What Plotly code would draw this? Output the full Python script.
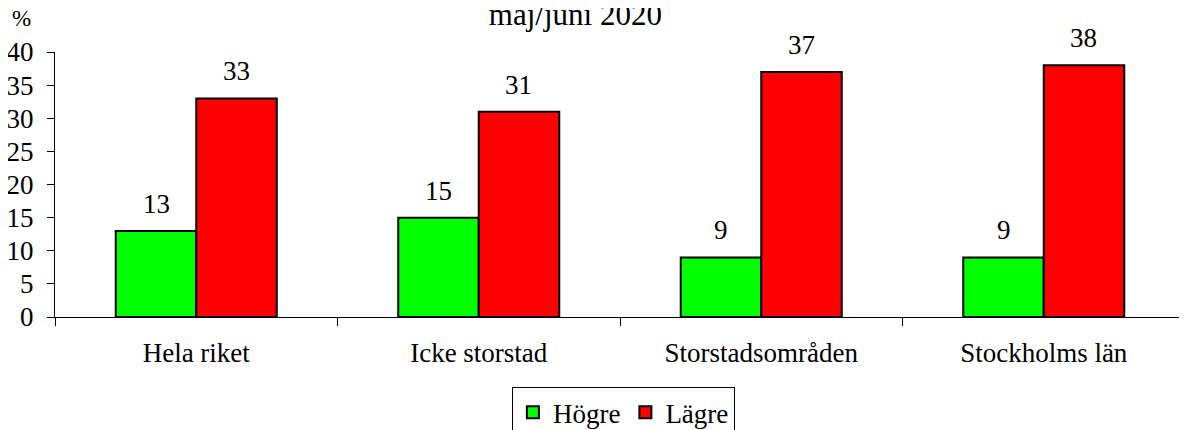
import plotly.graph_objects as go

categories = ["Hela riket", "Icke storstad", "Storstadsområden", "Stockholms län"]
hogre = [13, 15, 9, 9]
lagre = [33, 31, 37, 38]
series_names = ["Högre", "Lägre"]
colors = ["#00ff00", "#ff0000"]
y_ticks = [0, 5, 10, 15, 20, 25, 30, 35, 40]

font = "Liberation Serif, Times New Roman, serif"
fs = 27

fig = go.Figure()
for name, vals, col in zip(series_names, [hogre, lagre], colors):
    fig.add_trace(go.Bar(
        x=categories, y=vals, name=name,
        marker=dict(color=col, line=dict(color="black", width=2)),
    ))

for vals, shift in [(hogre, -40), (lagre, 40)]:
    for c, v in zip(categories, vals):
        fig.add_annotation(x=c, y=v, text=str(v), showarrow=False, xshift=shift,
                           yshift=27, font=dict(size=fs, color="black", family=font))

fig.add_annotation(text="%", xref="paper", yref="paper", x=-0.030, y=1.125,
                   showarrow=False, font=dict(size=23, color="black", family=font),
                   xanchor="center", yanchor="middle")

fig.update_layout(
    width=1187, height=430,
    margin=dict(l=47, r=10, t=44, b=121, autoexpand=False),
    paper_bgcolor="white", plot_bgcolor="white",
    font=dict(family=font, size=fs, color="black"),
    title=dict(text="maj/juni 2020", x=0.478, xanchor="center", y=0.985, yanchor="middle",
               font=dict(size=31, family=font, color="black")),
    barmode="group", bargap=0.43, bargroupgap=0,
    showlegend=True,
    legend=dict(orientation="h", x=0.503, xanchor="center", y=-0.265, yanchor="top",
                bordercolor="black", borderwidth=1, font=dict(size=fs, family=font),
                itemwidth=30, tracegroupgap=0),
    xaxis=dict(type="category", showline=True, linecolor="black", linewidth=1,
               ticks="outside", tickson="boundaries", ticklen=8, tickcolor="black",
               showgrid=False, automargin=False, ticklabelstandoff=12,
               tickfont=dict(size=fs, family=font)),
    yaxis=dict(range=[0, 40], tickvals=y_ticks, showline=True, linecolor="black",
               linewidth=1, ticks="outside", ticklen=7, tickcolor="black",
               showgrid=False, zeroline=False, automargin=False, ticklabelstandoff=8,
               tickfont=dict(size=fs, family=font)),
)

fig.write_html("out.html")
